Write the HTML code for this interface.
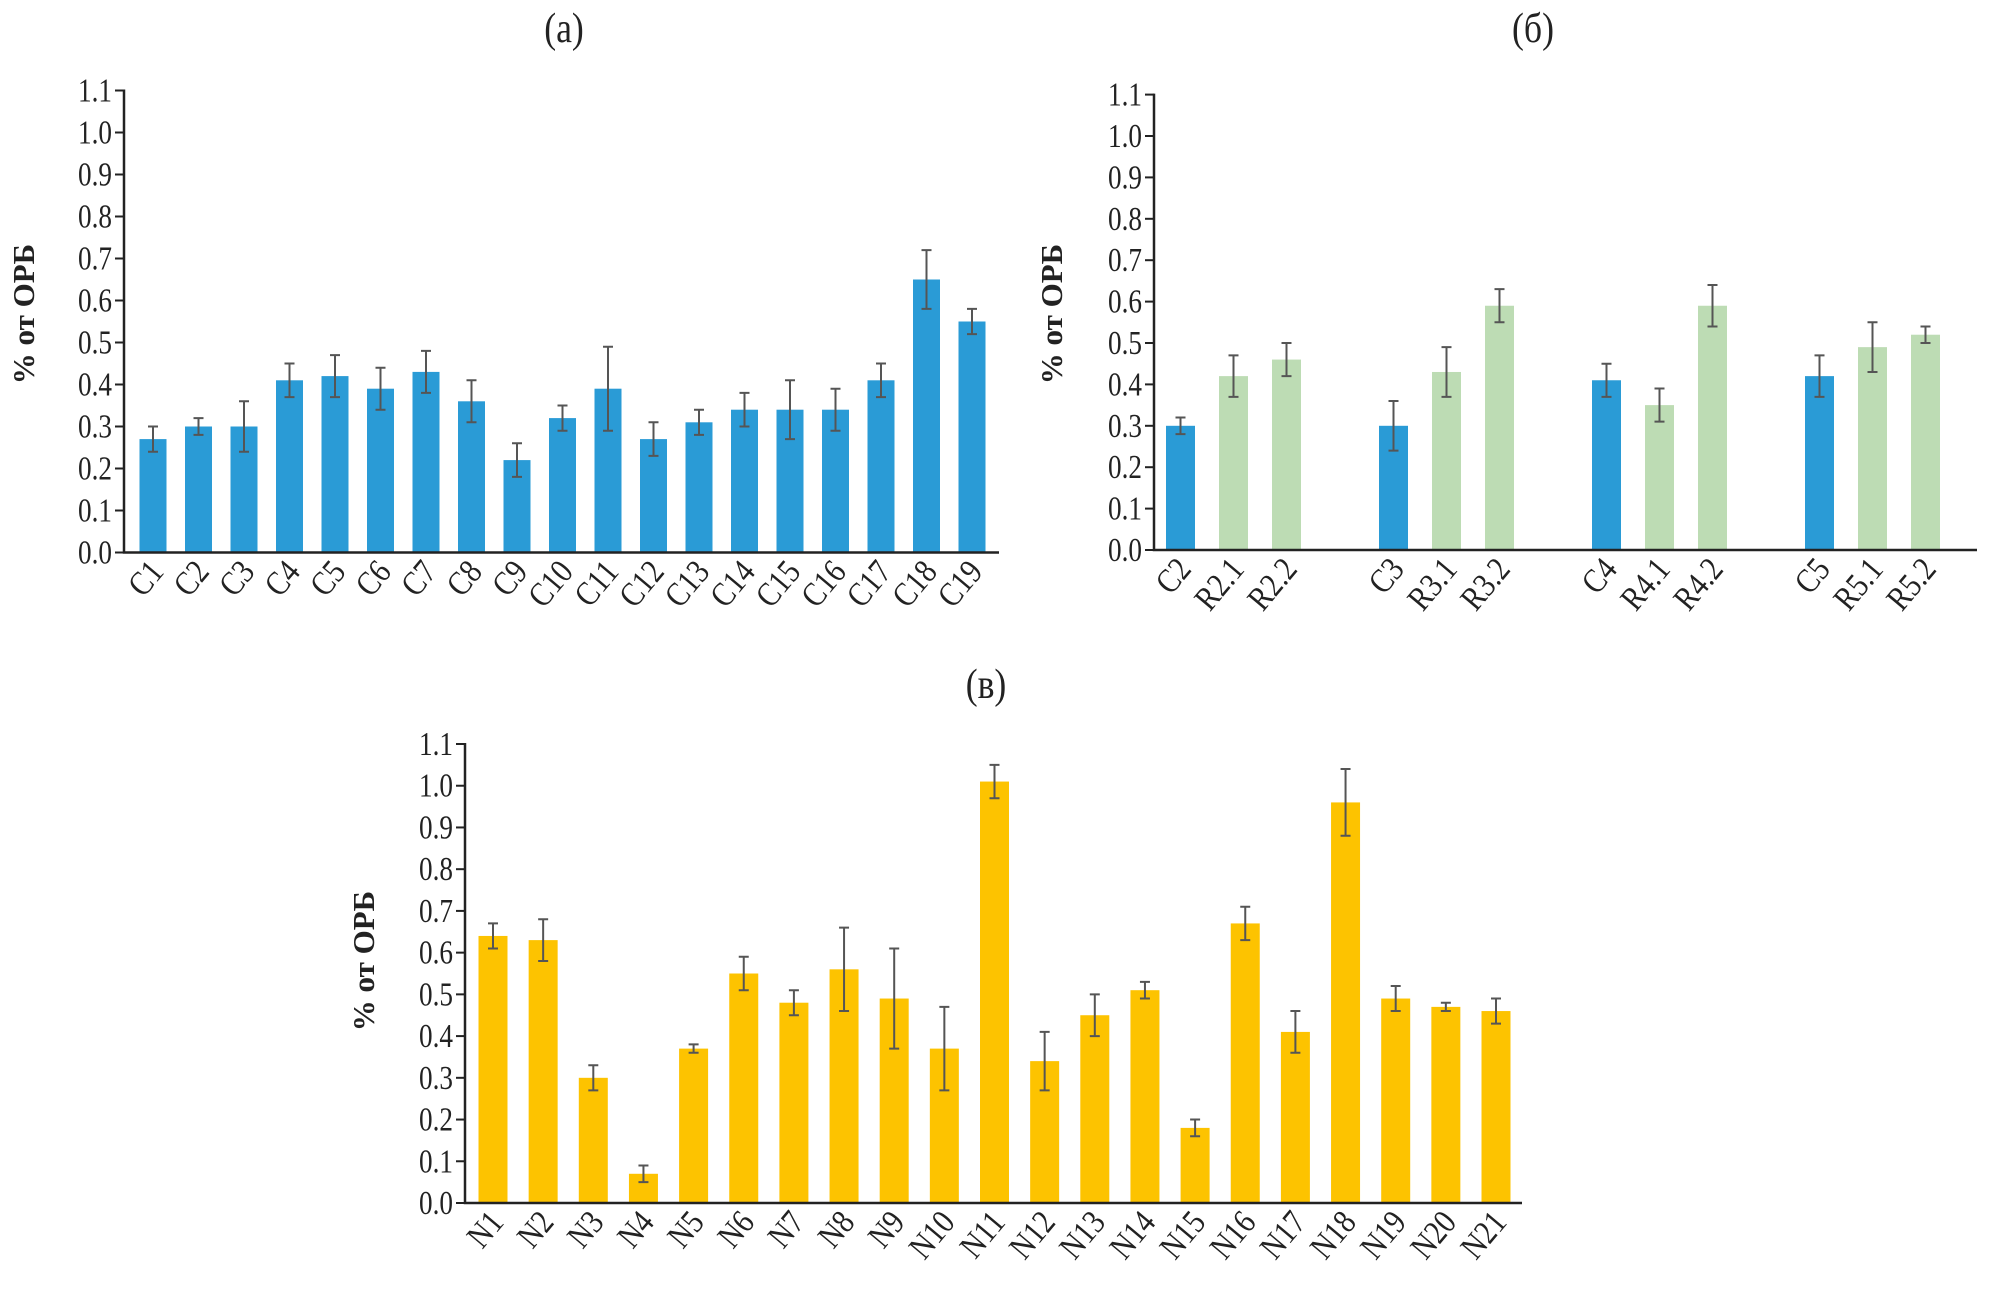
<!DOCTYPE html>
<html><head><meta charset="utf-8"><style>
html,body{margin:0;padding:0;background:#fff;}
svg{display:block;}
text{font-family:"Liberation Serif",serif;fill:#222;}
</style></head><body>
<svg id="chart" width="2002" height="1295" viewBox="0 0 2002 1295"></svg>
<script>
const catsA=["C1","C2","C3","C4","C5","C6","C7","C8","C9","C10","C11","C12","C13","C14","C15","C16","C17","C18","C19"];
const valsA=[0.27,0.30,0.30,0.41,0.42,0.39,0.43,0.36,0.22,0.32,0.39,0.27,0.31,0.34,0.34,0.34,0.41,0.65,0.55];
const errA=[0.03,0.02,0.06,0.04,0.05,0.05,0.05,0.05,0.04,0.03,0.10,0.04,0.03,0.04,0.07,0.05,0.04,0.07,0.03];
const catsB=["C2","R2.1","R2.2","C3","R3.1","R3.2","C4","R4.1","R4.2","C5","R5.1","R5.2"];
const valsB=[0.30,0.42,0.46,0.30,0.43,0.59,0.41,0.35,0.59,0.42,0.49,0.52];
const errB=[0.02,0.05,0.04,0.06,0.06,0.04,0.04,0.04,0.05,0.05,0.06,0.02];
const catsC=["N1","N2","N3","N4","N5","N6","N7","N8","N9","N10","N11","N12","N13","N14","N15","N16","N17","N18","N19","N20","N21"];
const valsC=[0.64,0.63,0.30,0.07,0.37,0.55,0.48,0.56,0.49,0.37,1.01,0.34,0.45,0.51,0.18,0.67,0.41,0.96,0.49,0.47,0.46];
const errC=[0.03,0.05,0.03,0.02,0.01,0.04,0.03,0.10,0.12,0.10,0.04,0.07,0.05,0.02,0.02,0.04,0.05,0.08,0.03,0.01,0.03];
const ticks=["0.0","0.1","0.2","0.3","0.4","0.5","0.6","0.7","0.8","0.9","1.0","1.1"];

const NS="http://www.w3.org/2000/svg";
const svg=document.getElementById('chart');
function mk(tag,attrs,parent){const e=document.createElementNS(NS,tag);for(const k in attrs)e.setAttribute(k,attrs[k]);(parent||svg).appendChild(e);return e;}

function panel(p){
  const g=mk('g',{});
  
  
  const y=v=>p.y0-(v/1.1)*(p.y0-p.y1);
  const t=mk('text',{x:0,y:0,'font-size':42,'text-anchor':'middle',transform:`translate(${p.titleX},${p.titleY}) scale(0.85,1)`},g);
  t.textContent=p.title;
  
  
  const yl=mk('text',{x:0,y:0,'font-size':31,'font-weight':'bold','text-anchor':'middle',transform:`translate(${p.ylx},${p.yly}) rotate(-90)`},g);
  yl.textContent="% от ОРБ";
  
  
  ticks.forEach((tk,i)=>{
    const v=parseFloat(tk), yy=y(v);
    const l=mk('line',{x1:p.ax-9,x2:p.ax,y1:yy,y2:yy,stroke:'#222','stroke-width':2},g);
    
    
    const tx=mk('text',{x:0,y:0,'font-size':34,'text-anchor':'end',transform:`translate(${p.ax-12},${yy+11}) scale(0.8,1)`},g);
    tx.textContent=tk;
    
    
  });
  p.cats.forEach((c,i)=>{
    const cx=p.cx(i), v=p.vals[i], e=p.errs[i];
    const r=mk('rect',{x:cx-p.bw/2,y:y(v),width:p.bw,height:y(0)-y(v),fill:p.color(i)},g);
    
    
    const eb=mk('path',{d:`M${cx},${y(v+e)}V${y(v-e)}M${cx-5},${y(v+e)}H${cx+5}M${cx-5},${y(v-e)}H${cx+5}`,stroke:'#555','stroke-width':2,fill:'none'},g);
    
    
    const lb=mk('text',{x:0,y:0,'font-size':34,'text-anchor':'end',transform:`translate(${cx+12},${p.y0+20}) rotate(-50) scale(0.85,1)`},g);
    lb.textContent=c;
    
    
  });
  const ax=mk('path',{d:`M${p.ax},${p.y1-1}V${p.y0}H${p.axEnd}`,stroke:'#222','stroke-width':2.5,fill:'none'},g);
  
  
}
const blue='#2a9bd6', green='#bddcb4', yellow='#fdc300';
panel({name:'panel-a',title:'(a)',titleX:564,titleY:42,ylx:34,yly:314,ax:124,axEnd:999,y0:552.5,y1:90.5,bw:27,
  cats:catsA,vals:valsA,errs:errA,cx:i=>153+i*45.5,color:()=>blue});
panel({name:'panel-b',title:'(б)',titleX:1533,titleY:42,ylx:1062,yly:314,ax:1154,axEnd:1977,y0:550,y1:94.6,bw:29,
  cats:catsB,vals:valsB,errs:errB,cx:i=>1180.5+Math.floor(i/3)*213+(i%3)*53,color:i=>i%3===0?blue:green});
panel({name:'panel-c',title:'(в)',titleX:986,titleY:698,ylx:374,yly:961,ax:465,axEnd:1522,y0:1203,y1:744,bw:29,
  cats:catsC,vals:valsC,errs:errC,cx:i=>493+i*50.15,color:()=>yellow});
</script>
</body></html>
